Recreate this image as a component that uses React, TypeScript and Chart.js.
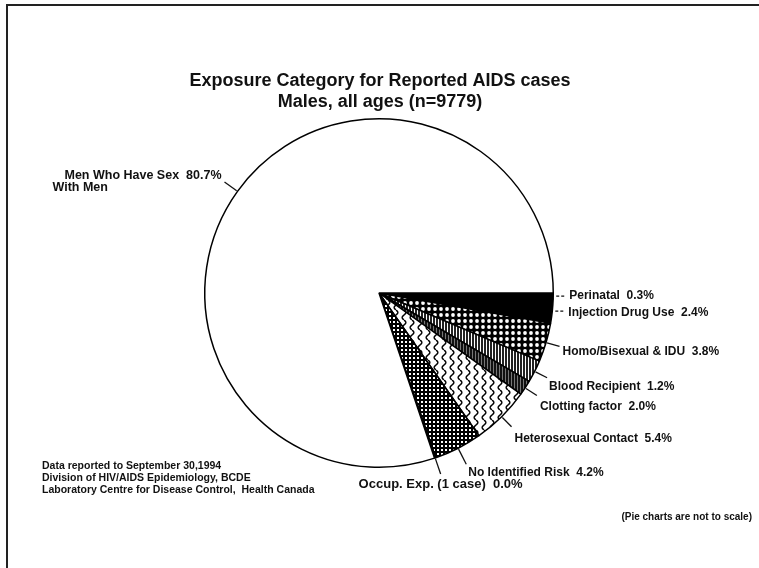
import { useEffect, useRef } from 'react';
import { Chart, registerables } from 'chart.js';

Chart.register(...registerables);

// ---- data ----
const categories = [
  'Perinatal',
  'Injection Drug Use',
  'Homo/Bisexual & IDU',
  'Blood Recipient',
  'Clotting factor',
  'Heterosexual Contact',
  'No Identified Risk',
  'Occup. Exp. (1 case)',
  'Men Who Have Sex\nWith Men',
];
// percentages printed on the labels
const percentages = [0.3, 2.4, 3.8, 1.2, 2.0, 5.4, 4.2, 0.0, 80.7];
// slice sizes as drawn (degrees) - the original pie is "not to scale"
const drawnDegrees = [2, 8, 13, 7.5, 5, 19.5, 16, 0.4, 288.6];

const titleLines = ['Exposure Category for Reported AIDS cases', 'Males, all ages (n=9779)'];
const sourceLines = [
  'Data reported to September 30,1994',
  'Division of HIV/AIDS Epidemiology, BCDE',
  'Laboratory Centre for Disease Control,  Health Canada',
];
const scaleNote = '(Pie charts are not to scale)';

// ---- styling ----
const FONT = '"Liberation Sans", Arial, Helvetica, sans-serif';

type LabelStyle = {
  kind: 'dash' | 'radial';
  r0: number;
  r1: number;
  dx: number;
  dy: number;
  align: CanvasTextAlign;
  size: number;
};

const labelLayout: LabelStyle[] = [
  { kind: 'dash', r0: 3, r1: 12, dx: 4, dy: 0, align: 'left', size: 12 },
  { kind: 'dash', r0: 3, r1: 12, dx: 4, dy: 1, align: 'left', size: 12 },
  { kind: 'radial', r0: 1, r1: 14, dx: 3, dy: 5, align: 'left', size: 12 },
  { kind: 'radial', r0: 1, r1: 14, dx: 2, dy: 9, align: 'left', size: 12 },
  { kind: 'radial', r0: 1, r1: 14, dx: 3, dy: 11, align: 'left', size: 12 },
  { kind: 'radial', r0: 1, r1: 14, dx: 3, dy: 12, align: 'left', size: 12 },
  { kind: 'radial', r0: 1, r1: 18, dx: 2, dy: 8, align: 'left', size: 12 },
  { kind: 'radial', r0: 1, r1: 17, dx: 0, dy: 10, align: 'center', size: 13 },
  { kind: 'radial', r0: 1, r1: 16, dx: -3, dy: -6, align: 'right', size: 12.5 },
];

function makePattern(w: number, h: number, draw: (c: CanvasRenderingContext2D) => void) {
  const c = document.createElement('canvas');
  c.width = w;
  c.height = h;
  const x = c.getContext('2d')!;
  draw(x);
  return x.createPattern(c, 'repeat') as CanvasPattern;
}

function buildFills(): (string | CanvasPattern)[] {
  const dots = makePattern(6, 6, (c) => {
    c.fillStyle = '#000';
    c.fillRect(0, 0, 6, 6);
    c.fillStyle = '#fff';
    c.beginPath();
    c.arc(3, 3, 1.9, 0, Math.PI * 2);
    c.fill();
  });
  const stripes = makePattern(3, 3, (c) => {
    c.fillStyle = '#fff';
    c.fillRect(0, 0, 3, 3);
    c.fillStyle = '#222';
    c.fillRect(1, 0, 2, 3);
  });
  const dark = makePattern(3, 3, (c) => {
    c.fillStyle = '#111';
    c.fillRect(0, 0, 3, 3);
    c.fillStyle = '#777';
    c.fillRect(1, 0, 1, 3);
  });
  const wavy = makePattern(8, 10, (c) => {
    c.fillStyle = '#fff';
    c.fillRect(0, 0, 8, 10);
    c.strokeStyle = '#000';
    c.lineWidth = 1.5;
    c.beginPath();
    for (let y = 0; y <= 10; y += 0.5) {
      const x = 4 + 1.8 * Math.sin((2 * Math.PI * y) / 10);
      if (y === 0) c.moveTo(x, y);
      else c.lineTo(x, y);
    }
    c.stroke();
  });
  const cross = makePattern(4, 4, (c) => {
    c.fillStyle = '#000';
    c.fillRect(0, 0, 4, 4);
    c.fillStyle = '#fff';
    c.fillRect(1, 1, 2, 2);
  });
  return ['#000', '#000', dots, stripes, dark, wavy, cross, '#fff', '#fff'];
}

const framePlugin = {
  id: 'frame',
  beforeDraw(chart: any) {
    const ctx: CanvasRenderingContext2D = chart.ctx;
    ctx.save();
    ctx.fillStyle = '#fff';
    ctx.fillRect(0, 0, chart.width, chart.height);
    ctx.strokeStyle = '#222';
    ctx.lineWidth = 2;
    ctx.beginPath();
    ctx.moveTo(7, chart.height);
    ctx.lineTo(7, 5);
    ctx.lineTo(chart.width, 5);
    ctx.stroke();
    ctx.restore();
  },
};

const textPlugin = {
  id: 'texts',
  afterDraw(chart: any) {
    const ctx: CanvasRenderingContext2D = chart.ctx;
    ctx.save();
    ctx.fillStyle = '#111';
    ctx.strokeStyle = '#111';
    ctx.textBaseline = 'middle';

    // title
    ctx.textAlign = 'center';
    ctx.font = `bold 18px ${FONT}`;
    titleLines.forEach((t, i) => ctx.fillText(t, 380, 81 + i * 21));

    // source
    ctx.textAlign = 'left';
    ctx.font = `bold 10.5px ${FONT}`;
    sourceLines.forEach((t, i) => ctx.fillText(t, 42, 466 + i * 12));

    ctx.textAlign = 'right';
    ctx.font = `bold 10px ${FONT}`;
    ctx.fillText(scaleNote, 752, 517);

    // slice labels
    const meta = chart.getDatasetMeta(0);
    meta.data.forEach((arc: any, i: number) => {
      const p = arc.getProps(['x', 'y', 'startAngle', 'endAngle', 'outerRadius'], true);
      const mid = (p.startAngle + p.endAngle) / 2;
      const cs = Math.cos(mid);
      const sn = Math.sin(mid);
      const L = labelLayout[i];
      let ex: number;
      let ey: number;
      ctx.lineWidth = 1.3;
      if (L.kind === 'dash') {
        const ax = p.x + cs * p.outerRadius;
        const ay = p.y + sn * p.outerRadius;
        ctx.setLineDash([3, 2]);
        ctx.beginPath();
        ctx.moveTo(ax + L.r0, ay);
        ctx.lineTo(ax + L.r1, ay);
        ctx.stroke();
        ctx.setLineDash([]);
        ex = ax + L.r1;
        ey = ay;
      } else {
        const r0 = p.outerRadius + L.r0;
        const r1 = p.outerRadius + L.r1;
        ctx.beginPath();
        ctx.moveTo(p.x + cs * r0, p.y + sn * r0);
        ctx.lineTo(p.x + cs * r1, p.y + sn * r1);
        ctx.stroke();
        ex = p.x + cs * r1;
        ey = p.y + sn * r1;
      }
      const lines = categories[i].split('\n');
      const first = `${lines[0]}  ${percentages[i].toFixed(1)}%`;
      ctx.font = `bold ${L.size}px ${FONT}`;
      ctx.textAlign = L.align;
      const tx = ex + L.dx;
      const ty = ey + L.dy;
      ctx.fillText(first, tx, ty);
      if (lines.length > 1) {
        const w = ctx.measureText(first).width;
        const left = L.align === 'right' ? tx - w : L.align === 'center' ? tx - w / 2 : tx;
        ctx.textAlign = 'left';
        lines.slice(1).forEach((ln, k) => ctx.fillText(ln, left - 12, ty + 12 * (k + 1)));
      }
    });
    ctx.restore();
  },
};

export default function App() {
  const ref = useRef<HTMLCanvasElement>(null);
  useEffect(() => {
    const canvas = ref.current!;
    const chart = new Chart(canvas, {
      type: 'pie',
      data: {
        labels: categories,
        datasets: [
          {
            data: drawnDegrees,
            backgroundColor: buildFills() as any,
            borderColor: '#000',
            borderWidth: 1.5,
            hoverOffset: 0,
          },
        ],
      },
      options: {
        responsive: false,
        animation: false,
        rotation: 90,
        events: [],
        layout: { padding: { left: 204, right: 205, top: 118, bottom: 100 } },
        plugins: {
          legend: { display: false },
          tooltip: { enabled: false },
          title: { display: false },
        },
      },
      plugins: [framePlugin, textPlugin],
    });
    return () => chart.destroy();
  }, []);
  return (
    <div style={{ position: 'fixed', left: 0, top: 0, width: 759, height: 568, background: '#fff' }}>
      <canvas ref={ref} width={759} height={568} style={{ display: 'block', width: 759, height: 568 }} />
    </div>
  );
}
